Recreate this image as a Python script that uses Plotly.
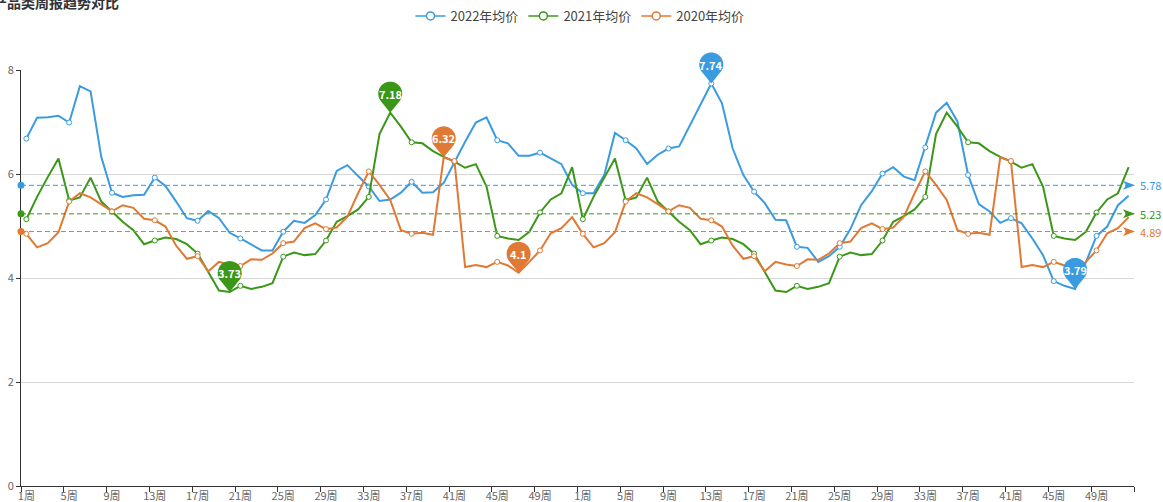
import math
import plotly.graph_objects as go

# ---------------- data ----------------
week_labels = [f"{w}周" for w in range(1, 53)] * 2

price_2022 = [
    6.68, 7.08, 7.09, 7.12, 6.99, 7.69, 7.59, 6.33, 5.64, 5.56, 5.59, 5.60, 5.93,
    5.77, 5.47, 5.15, 5.10, 5.29, 5.15, 4.87, 4.76, 4.65, 4.53, 4.53, 4.89, 5.10,
    5.06, 5.21, 5.51, 6.06, 6.17, 5.96, 5.76, 5.48, 5.51, 5.64, 5.85, 5.64, 5.65,
    5.83, 6.24, 6.62, 6.99, 7.09, 6.65, 6.59, 6.35, 6.35, 6.41, 6.30, 6.19, 5.79,
    5.63, 5.63, 5.98, 6.79, 6.65, 6.49, 6.19, 6.37, 6.49, 6.53, 6.94, 7.36, 7.74,
    7.36, 6.49, 5.98, 5.66, 5.44, 5.12, 5.11, 4.60, 4.58, 4.31, 4.42, 4.60, 4.94,
    5.40, 5.67, 6.01, 6.13, 5.95, 5.88, 6.51, 7.18, 7.37, 7.01, 5.98, 5.42, 5.28,
    5.06, 5.15, 5.05, 4.76, 4.44, 3.94, 3.85, 3.79, 4.30, 4.81, 4.99, 5.40, 5.58,
]
price_2021_year = [
    5.13, 5.56, 5.94, 6.30, 5.49, 5.55, 5.93, 5.47, 5.28, 5.08, 4.92, 4.65, 4.72,
    4.78, 4.75, 4.65, 4.47, 4.11, 3.76, 3.73, 3.85, 3.79, 3.83, 3.90, 4.41, 4.49,
    4.44, 4.46, 4.72, 5.08, 5.19, 5.32, 5.56, 6.77, 7.18, 6.91, 6.61, 6.59, 6.44,
    6.33, 6.24, 6.12, 6.19, 5.76, 4.81, 4.76, 4.73, 4.89, 5.26, 5.51, 5.63, 6.13,
]
price_2020_year = [
    4.85, 4.59, 4.67, 4.88, 5.47, 5.63, 5.55, 5.42, 5.28, 5.40, 5.35, 5.14, 5.11,
    4.99, 4.62, 4.37, 4.42, 4.13, 4.31, 4.26, 4.23, 4.36, 4.35, 4.47, 4.67, 4.70,
    4.96, 5.05, 4.94, 4.97, 5.18, 5.63, 6.05, 5.79, 5.50, 4.92, 4.85, 4.87, 4.83,
    6.32, 6.25, 4.21, 4.25, 4.21, 4.31, 4.24, 4.10, 4.31, 4.53, 4.86, 4.96, 5.17,
]
price_2021 = price_2021_year * 2
price_2020 = price_2020_year * 2

series_names = ["2022年均价", "2021年均价", "2020年均价"]
series_colors = ["#3a9be0", "#3b9718", "#e07934"]
series_values = [price_2022, price_2021, price_2020]
title_text = "产品类周报趋势对比"

# ---------------- layout geometry ----------------
W, H = 1163, 502
ML, MR, MT, MB = 21, 29, 70, 16
PW, PH = W - ML - MR, H - MT - MB
FONT = "Noto Sans CJK SC, Noto Sans, sans-serif"
Y_RANGE = [0, 8]

positions = list(range(len(week_labels)))
X_RANGE = [-0.5, len(positions) - 0.5]


def px_x(px):
    return (px - ML) / PW


def px_y(py):
    return (H - MB - py) / PH


def paper_x(xv):
    return (xv - X_RANGE[0]) / (X_RANGE[1] - X_RANGE[0])


def paper_y(yv):
    return (yv - Y_RANGE[0]) / (Y_RANGE[1] - Y_RANGE[0])


fig = go.Figure()
shapes = []
annotations = []

# pin geometry (pixels, y up)
PIN_R, PIN_C = 12.0, 19.0
phi = math.acos(PIN_R / PIN_C)
a0 = -math.pi / 2 + phi
a1 = 3 * math.pi / 2 - phi
pts = []
n = 36
for k in range(n + 1):
    a = a0 + (a1 - a0) * k / n
    pts.append((PIN_R * math.cos(a), PIN_C + PIN_R * math.sin(a)))
pin_path = "M 0,0 " + " ".join(f"L {x:.2f},{y:.2f}" for x, y in pts) + " Z"
arrow_path = "M 1,0 L -11,4.5 L -8,0 L -11,-4.5 Z"

for name, color, vals in zip(series_names, series_colors, series_values):
    fig.add_trace(go.Scatter(
        x=positions, y=vals, mode="lines", name=name, showlegend=False,
        line=dict(color=color, width=2), hoverinfo="skip",
    ))
    fig.add_trace(go.Scatter(
        x=positions[::4], y=vals[::4], mode="markers", showlegend=False,
        marker=dict(symbol="circle", size=5, color="white",
                    line=dict(color=color, width=1)),
        hoverinfo="skip",
    ))
    # legend entry
    fig.add_trace(go.Scatter(
        x=[None], y=[None], mode="lines+markers", name=name,
        line=dict(color=color, width=1.5),
        marker=dict(symbol="circle", size=8, color="white",
                    line=dict(color=color, width=1.5)),
    ))

    # average mark line
    avg = sum(vals) / len(vals)
    shapes.append(dict(type="line", xref="paper", yref="y", x0=0, x1=1,
                       y0=avg, y1=avg, layer="above",
                       line=dict(color=color, width=1, dash="5px,3px")))
    shapes.append(dict(type="circle", xref="paper", yref="paper",
                       xsizemode="pixel", ysizemode="pixel", xanchor=0,
                       yanchor=paper_y(avg),
                       x0=-3.5, x1=3.5, y0=-3.5, y1=3.5,
                       fillcolor=color, line=dict(width=0), layer="above"))
    shapes.append(dict(type="path", xref="paper", yref="paper",
                       xsizemode="pixel", ysizemode="pixel", xanchor=1,
                       yanchor=paper_y(avg),
                       path=arrow_path, fillcolor=color, line=dict(width=0),
                       layer="above"))
    annotations.append(dict(xref="paper", yref="y", x=1, y=avg, xshift=4,
                            xanchor="left", yanchor="middle", showarrow=False,
                            text=f"{avg:.2f}",
                            font=dict(family=FONT, size=11, color=color)))

    # max / min pins
    for v in (max(vals), min(vals)):
        idx = vals.index(v)
        shapes.append(dict(type="path", xref="paper", yref="paper",
                           xsizemode="pixel", ysizemode="pixel",
                           xanchor=paper_x(positions[idx]), yanchor=paper_y(v),
                           path=pin_path, fillcolor=color,
                           line=dict(width=0), layer="above"))
        annotations.append(dict(xref="paper", yref="paper",
                                x=paper_x(positions[idx]), y=paper_y(v),
                                yshift=PIN_C, showarrow=False,
                                text=f"<b>{v:g}</b>", xanchor="center",
                                yanchor="middle",
                                font=dict(family=FONT, size=11, color="white")))

# title (partly out of frame, as in the reference)
annotations.append(dict(xref="paper", yref="paper", x=px_x(-9), y=px_y(2.5),
                        xanchor="left", yanchor="middle", showarrow=False,
                        text=f"<b>{title_text}</b>",
                        font=dict(family=FONT, size=14, color="#333333")))

fig.update_layout(
    width=W, height=H,
    margin=dict(l=ML, r=MR, t=MT, b=MB, pad=0, autoexpand=False),
    paper_bgcolor="white", plot_bgcolor="white",
    font=dict(family=FONT, size=11, color="#666666"),
    showlegend=True,
    legend=dict(orientation="h", xref="container", yref="container",
                x=580 / W, xanchor="center",
                y=1 - 16 / H, yanchor="middle",
                font=dict(family=FONT, size=13, color="#444444"),
                itemwidth=30, bgcolor="rgba(0,0,0,0)"),
    shapes=shapes,
    annotations=annotations,
    xaxis=dict(
        range=X_RANGE, automargin=False,
        tickmode="array",
        tickvals=positions[::4],
        ticktext=week_labels[::4],
        ticks="", showgrid=False, zeroline=False,
        showline=True, linecolor="#333333", linewidth=1,
        tickfont=dict(family=FONT, size=11, color="#666666"),
        minor=dict(tick0=-0.5, dtick=4, ticks="outside", ticklen=5,
                   tickcolor="#333333", tickwidth=1, showgrid=False),
    ),
    yaxis=dict(
        range=Y_RANGE, dtick=2, tick0=0, automargin=False,
        showgrid=True, gridcolor="#d6d6d6", gridwidth=1,
        zeroline=False, showline=True, linecolor="#333333", linewidth=1,
        ticks="outside", ticklen=4, tickcolor="#333333",
        tickfont=dict(family=FONT, size=11, color="#666666"),
    ),
)

fig.write_html(
    "out.html",
    config={"displayModeBar": False},
    post_script="document.body.style.margin='0';document.body.style.padding='0';",
)
